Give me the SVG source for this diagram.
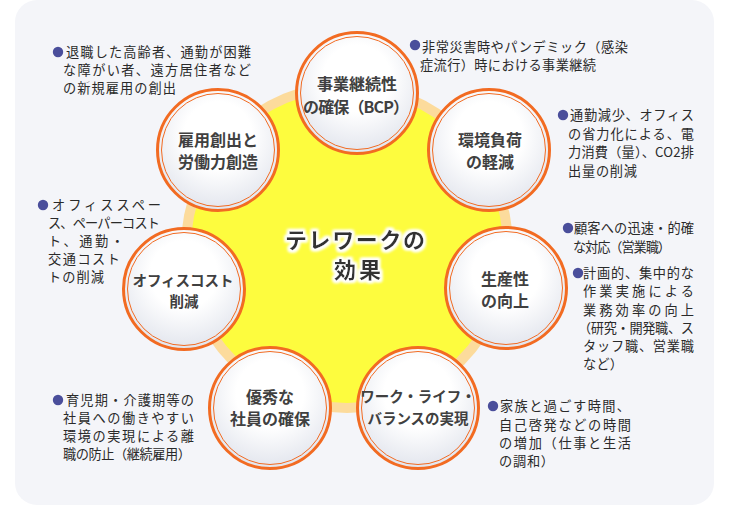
<svg xmlns="http://www.w3.org/2000/svg" width="730" height="506" viewBox="0 0 730 506">
<defs>
<radialGradient id="cg" cx="0.5" cy="0.38" r="0.62">
<stop offset="0.45" stop-color="#ffffff"/>
<stop offset="1" stop-color="#e2e5ed"/>
</radialGradient>
<filter id="glow" x="-20%" y="-40%" width="140%" height="180%">
<feMorphology in="SourceAlpha" operator="dilate" radius="2" result="d"/>
<feGaussianBlur in="d" stdDeviation="1.6" result="b"/>
<feFlood flood-color="#ffffff"/>
<feComposite in2="b" operator="in" result="g"/>
<feMerge><feMergeNode in="g"/><feMergeNode in="g"/><feMergeNode in="SourceGraphic"/></feMerge>
</filter>
</defs>
<style>
.panel{fill:#f4f5f9}
.ring{fill:#fcdb9c}
.hub{fill:#fdfc3e}
.outer{fill:url(#cg);stroke:#f26b22;stroke-width:3}
.inner{fill:none;stroke:#f26b22;stroke-width:1}
.nt{font-family:"Noto Sans CJK JP","Noto Sans",sans-serif;font-weight:bold;font-size:16px;fill:#404040;text-anchor:middle}
.nts{font-size:14.5px}
.ct{font-family:"Noto Sans CJK JP","Noto Sans",sans-serif;font-weight:bold;font-size:22px;fill:#333333;text-anchor:middle}
.cl{font-family:"Noto Sans CJK JP","Noto Sans",sans-serif;font-size:13.2px;fill:#2a2a2a}
.bul{fill:#4a4e9b}
</style>
<rect class="panel" x="15" y="0" width="699" height="505" rx="22"/>
<g id="connectors">
<circle class="ring" cx="347" cy="247" r="166"/>
</g>
<g id="hub">
<circle class="hub" cx="347" cy="247" r="156"/>
<text class="ct" filter="url(#glow)"><tspan x="355" y="248" textLength="140" lengthAdjust="spacing">テレワークの</tspan><tspan x="357.5" y="278" textLength="47" lengthAdjust="spacing">効果</tspan></text>
</g>
<g id="node-bcp" transform="translate(357,93)">
<circle class="outer" r="60.5"/><circle class="inner" r="56.5"/>
<text class="nt"><tspan x="0" y="-3">事業継続性</tspan><tspan x="-1" y="20" textLength="106" lengthAdjust="spacing">の確保（BCP）</tspan></text>
</g>
<g id="node-koyou" transform="translate(218,150)">
<circle class="outer" r="60.5"/><circle class="inner" r="56.5"/>
<text class="nt"><tspan x="0" y="-4">雇用創出と</tspan><tspan x="0" y="18">労働力創造</tspan></text>
</g>
<g id="node-kankyou" transform="translate(489,150)">
<circle class="outer" r="60.5"/><circle class="inner" r="56.5"/>
<text class="nt"><tspan x="1" y="-4">環境負荷</tspan><tspan x="1" y="18">の軽減</tspan></text>
</g>
<g id="node-office" transform="translate(184,289)">
<circle class="outer" r="60.5"/><circle class="inner" r="56.5"/>
<text class="nt nts"><tspan x="-1" y="-3.5">オフィスコスト</tspan><tspan x="0" y="17.5">削減</tspan></text>
</g>
<g id="node-seisan" transform="translate(506,288)">
<circle class="outer" r="60.5"/><circle class="inner" r="56.5"/>
<text class="nt"><tspan x="-1" y="-3.5">生産性</tspan><tspan x="-1" y="18.5">の向上</tspan></text>
</g>
<g id="node-yuushuu" transform="translate(270,408)">
<circle class="outer" r="60.5"/><circle class="inner" r="56.5"/>
<text class="nt"><tspan x="0" y="-5.5">優秀な</tspan><tspan x="0" y="16.5">社員の確保</tspan></text>
</g>
<g id="node-wlb" transform="translate(418,408)">
<circle class="outer" r="60.5"/><circle class="inner" r="56.5"/>
<text class="nt nts"><tspan x="0" y="-6">ワーク・ライフ・</tspan><tspan x="0" y="15.5">バランスの実現</tspan></text>
</g>
<g id="note-koyou">
<circle class="bul" cx="58" cy="52" r="5.2"/>
<text class="cl"><tspan x="66" y="57" textLength="185" lengthAdjust="spacing">退職した高齢者、通勤が困難</tspan><tspan x="63" y="75" textLength="188" lengthAdjust="spacing">な障がい者、遠方居住者など</tspan><tspan x="63" y="93" textLength="113" lengthAdjust="spacing">の新規雇用の創出</tspan></text>
</g>
<g id="note-bcp">
<circle class="bul" cx="415" cy="45" r="5.2"/>
<text class="cl"><tspan x="422" y="52" textLength="206" lengthAdjust="spacing">非常災害時やパンデミック（感染</tspan><tspan x="420" y="70" textLength="176" lengthAdjust="spacing">症流行）時における事業継続</tspan></text>
</g>
<g id="note-kankyou">
<circle class="bul" cx="563" cy="115" r="5.2"/>
<text class="cl"><tspan x="570" y="120" textLength="124" lengthAdjust="spacing">通勤減少、オフィス</tspan><tspan x="568" y="138.5" textLength="126" lengthAdjust="spacing">の省力化による、電</tspan><tspan x="568" y="157" textLength="126" lengthAdjust="spacing">力消費（量）、CO2排</tspan><tspan x="568" y="175.5" textLength="69" lengthAdjust="spacing">出量の削減</tspan></text>
</g>
<g id="note-seisan">
<circle class="bul" cx="568" cy="228" r="5.2"/>
<text class="cl"><tspan x="574" y="233" textLength="120" lengthAdjust="spacing">顧客への迅速・的確</tspan><tspan x="573" y="252" textLength="98" lengthAdjust="spacing">な対応（営業職）</tspan></text>
<circle class="bul" cx="578" cy="273" r="5.2"/>
<text class="cl"><tspan x="583" y="278" textLength="111" lengthAdjust="spacing">計画的、集中的な</tspan><tspan x="583" y="296" textLength="111" lengthAdjust="spacing">作業実施による</tspan><tspan x="583" y="314.5" textLength="111" lengthAdjust="spacing">業務効率の向上</tspan><tspan x="578" y="333" textLength="116" lengthAdjust="spacing">（研究・開発職、ス</tspan><tspan x="583" y="351" textLength="111" lengthAdjust="spacing">タッフ職、営業職</tspan><tspan x="583" y="369" textLength="40" lengthAdjust="spacing">など）</tspan></text>
</g>
<g id="note-wlb">
<circle class="bul" cx="493" cy="406" r="5.2"/>
<text class="cl"><tspan x="500" y="411" textLength="130" lengthAdjust="spacing">家族と過ごす時間、</tspan><tspan x="499" y="429.5" textLength="132" lengthAdjust="spacing">自己啓発などの時間</tspan><tspan x="499" y="448" textLength="132" lengthAdjust="spacing">の増加（仕事と生活</tspan><tspan x="499" y="466" textLength="55" lengthAdjust="spacing">の調和）</tspan></text>
</g>
<g id="note-yuushuu">
<circle class="bul" cx="58" cy="400" r="5.2"/>
<text class="cl"><tspan x="66" y="405" textLength="128" lengthAdjust="spacing">育児期・介護期等の</tspan><tspan x="63" y="423" textLength="131" lengthAdjust="spacing">社員への働きやすい</tspan><tspan x="63" y="441" textLength="131" lengthAdjust="spacing">環境の実現による離</tspan><tspan x="63" y="459" textLength="128" lengthAdjust="spacing">職の防止（継続雇用）</tspan></text>
</g>
<g id="note-office">
<circle class="bul" cx="43" cy="205" r="5.2"/>
<text class="cl"><tspan x="52" y="210" textLength="109" lengthAdjust="spacing">オフィススペー</tspan><tspan x="48" y="228" textLength="112" lengthAdjust="spacing">ス、ペーパーコスト</tspan><tspan x="48" y="246" textLength="76" lengthAdjust="spacing">ト、通勤・</tspan><tspan x="48" y="264" textLength="72" lengthAdjust="spacing">交通コスト</tspan><tspan x="48" y="282" textLength="56" lengthAdjust="spacing">トの削減</tspan></text>
</g>
</svg>
